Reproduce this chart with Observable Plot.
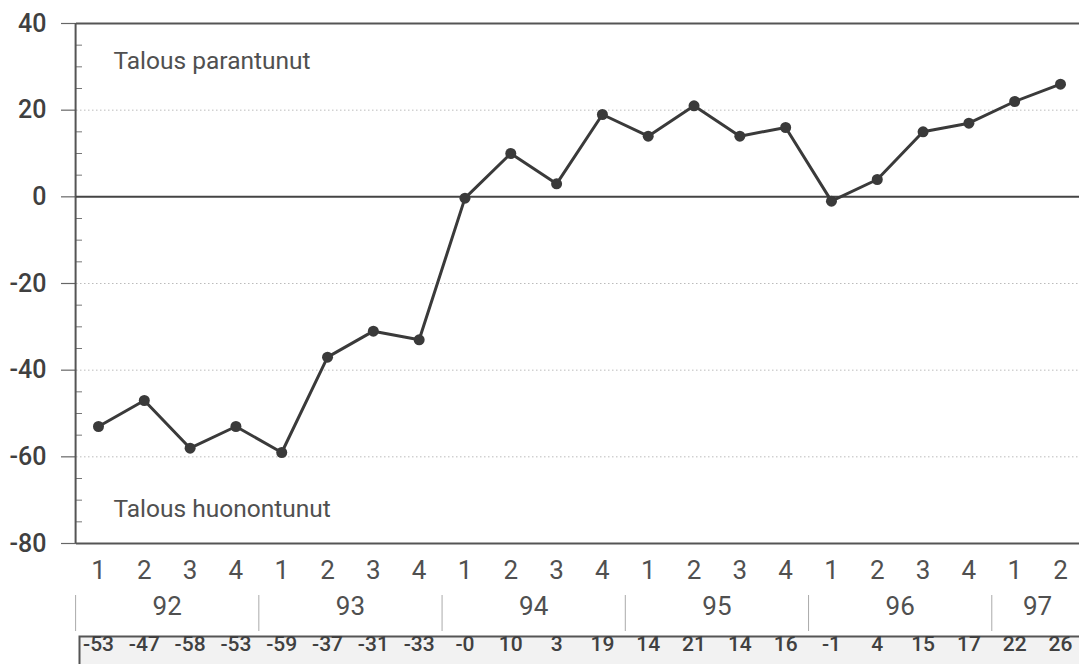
<!DOCTYPE html>
<html>
<head>
<meta charset="utf-8">
<script src="https://cdn.jsdelivr.net/npm/d3@7"></script>
<script src="https://cdn.jsdelivr.net/npm/@observablehq/plot@0.6"></script>
<style>
  html, body { margin: 0; padding: 0; background: #fff; }
  #chart svg { display: block; }
</style>
</head>
<body>
<div id="chart"></div>
<script>
// ---- data ----
const quarters = ["1","2","3","4","1","2","3","4","1","2","3","4","1","2","3","4","1","2","3","4","1","2"];
const years = ["92","93","94","95","96","97"];
const quartersPerYear = [4,4,4,4,4,2];
const values = [-53, -47, -58, -53, -59, -37, -31, -33, -0.3, 10, 3, 19, 14, 21, 14, 16, -1, 4, 15, 17, 22, 26];
const valueLabels = ["-53","-47","-58","-53","-59","-37","-31","-33","-0","10","3","19","14","21","14","16","-1","4","15","17","22","26"];
const yTicks = [40, 20, 0, -20, -40, -60, -80];
const yTickLabels = ["40", "20", "0", "-20", "-40", "-60", "-80"];
const gridTicks = [20, -20, -40, -60];
const minorTicks = [35, 30, 25, 15, 10, 5, -5, -10, -15, -25, -30, -35, -45, -50, -55, -65, -70, -75];
const annotations = ["Talous parantunut", "Talous huonontunut"];

// ---- derived tables ----
const data = values.map((v, i) => ({i, v, q: quarters[i], label: valueLabels[i]}));
const yTickData = yTicks.map((v, k) => ({v, label: yTickLabels[k]}));
let start = 0;
const yearData = years.map((y, k) => {
  const n = quartersPerYear[k];
  const d = {year: y, center: start + (n - 1) / 2, left: start - 0.5};
  start += n;
  return d;
});

const W = 1079, H = 664, ML = 76, MT = 23, MB = 121;
const ink = "#404040";

const chart = Plot.plot({
  width: W,
  height: H,
  marginLeft: ML,
  marginRight: 0,
  marginTop: MT,
  marginBottom: MB,
  style: {fontFamily: "Roboto, 'Liberation Sans', sans-serif", color: ink, background: "#fff"},
  x: {type: "linear", domain: [0, 21], range: [98, 1060], axis: null},
  y: {domain: [-80, 40], axis: null},
  marks: [
    // value table box
    Plot.frame({insetTop: 613, insetBottom: -140, insetLeft: 3, insetRight: -10, fill: "#f2f2f2", stroke: "#555", strokeWidth: 2}),
    // dotted gridlines
    Plot.ruleY(gridTicks, {stroke: "#bbb", strokeWidth: 1, strokeDasharray: "1.5,2.5"}),
    // minor inner ticks
    Plot.ruleY(minorTicks, {insetRight: W - ML - 6, stroke: "#777", strokeWidth: 1}),
    // major outer ticks
    Plot.ruleY(yTicks, {insetLeft: -15, insetRight: W - ML, stroke: "#666", strokeWidth: 1.2}),
    // y tick labels
    Plot.text(yTickData, {y: "v", text: "label", frameAnchor: "left", dx: -30, textAnchor: "end", fontSize: 25, fontWeight: 500, fill: ink}),
    // frame top/bottom
    Plot.ruleY([40, -80], {stroke: "#555", strokeWidth: 2}),
    // left axis line
    Plot.ruleX([-0.5], {y1: -80, y2: 40, stroke: "#555", strokeWidth: 2}),
    // zero line
    Plot.ruleY([0], {stroke: "#444", strokeWidth: 2}),
    // series
    Plot.line(data, {x: "i", y: "v", stroke: "#3a3a3a", strokeWidth: 3}),
    Plot.dot(data, {x: "i", y: "v", r: 5.5, fill: "#3a3a3a"}),
    // annotations
    Plot.text([annotations[0]], {frameAnchor: "top-left", dx: 37, dy: 28, textAnchor: "start", fontSize: 24.5, fill: "#505050"}),
    Plot.text([annotations[1]], {frameAnchor: "bottom-left", dx: 37, dy: -27, textAnchor: "start", fontSize: 24.5, fill: "#505050"}),
    // quarter labels
    Plot.text(data, {x: "i", text: "q", frameAnchor: "bottom", dy: 35, fontSize: 26, fill: "#505050"}),
    // year labels and separators
    Plot.ruleX(yearData, {x: "left", insetTop: 572, insetBottom: -88, stroke: "#aaa", strokeWidth: 1}),
    Plot.text(yearData, {x: "center", text: "year", frameAnchor: "bottom", dy: 71, fontSize: 26, fill: "#505050"}),
    // value table
    Plot.text(data, {x: "i", text: "label", frameAnchor: "bottom", dy: 107, fontSize: 21, fontWeight: 500, fill: ink})
  ]
});
document.getElementById("chart").appendChild(chart);
</script>
</body>
</html>
